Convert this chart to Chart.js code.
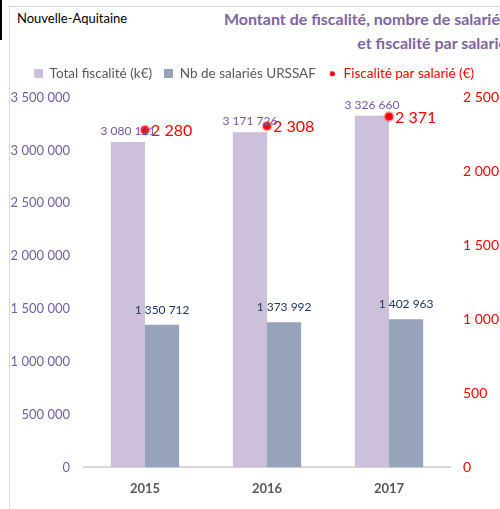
<!DOCTYPE html>
<html>
<head>
<meta charset="utf-8">
<script src="https://cdn.jsdelivr.net/npm/chart.js@4/dist/chart.umd.min.js"></script>
<style>
  html, body { margin: 0; padding: 0; background: #fff; overflow: hidden; }
  body { width: 500px; height: 509px; position: relative; font-family: Lato, "Liberation Sans", sans-serif; }
  #frame { position: absolute; left: 9px; top: 6px; width: 520px; height: 520px; border: 1px solid #d9d9d9; box-sizing: border-box; }
  #blackline { position: absolute; left: 0; top: 0; width: 2px; height: 40px; background: #000; }
  #region { position: absolute; left: 17px; top: 10px; font-size: 13px; color: #000; }
  #title { position: absolute; right: -7px; top: 7px; font-size: 16px; font-weight: bold; color: #8064a2; text-align: right; line-height: 24px; white-space: nowrap; }
  #wrap { position: absolute; left: 0; top: 0; width: 500px; height: 509px; }
</style>
</head>
<body>
<div id="frame"></div>
<div id="blackline"></div>
<div id="region">Nouvelle-Aquitaine</div>
<div id="title">Montant de fiscalité, nombre de salariés<br>et fiscalité par salarié</div>
<div id="wrap"><canvas id="chart-fiscalite"></canvas></div>
<script>
var years = ['2015', '2016', '2017'];
var totalFiscalite = [3080121, 3171726, 3326660];
var nbSalaries = [1350712, 1373992, 1402963];
var fiscaliteParSalarie = [2280, 2308, 2371];
var leftTicks = [0, 500000, 1000000, 1500000, 2000000, 2500000, 3000000, 3500000];
var rightTicks = [0, 500, 1000, 1500, 2000, 2500];

var purple = '#ccc0da';
var greyBlue = '#97a3bb';
var red = '#ff0000';
var fontFamily = 'Lato, "Liberation Sans", sans-serif';

function fmt(n) {
    return String(n).replace(/\B(?=(\d{3})+(?!\d))/g, ' ');
}

// legend markers as small images
function marker(color, round) {
    var c = document.createElement('canvas');
    c.width = 9;
    c.height = 9;
    var g = c.getContext('2d');
    g.fillStyle = color;
    if (round) {
        g.beginPath();
        g.arc(4.5, 4.5, 2.6, 0, Math.PI * 2);
        g.fill();
    } else {
        g.fillRect(0, 0, 9, 9);
    }
    return c;
}

// empty box between the legend and the plot area
var legendSpacer = {
    id: 'legendSpacer',
    beforeInit: function (chart) {
        Chart.layouts.addBox(chart, {
            position: 'top',
            weight: 500,
            fullSize: true,
            options: {},
            left: 0, top: 0, right: 0, bottom: 0, width: 0, height: 0,
            isHorizontal: function () { return true; },
            update: function (maxWidth) {
                this.width = maxWidth;
                this.height = 7;
            },
            draw: function () {}
        });
    }
};

// draws the value labels above bars and next to points
var valueLabels = {
    id: 'valueLabels',
    afterDatasetsDraw: function (chart) {
        var ctx = chart.ctx;
        ctx.save();
        chart.data.datasets.forEach(function (ds, i) {
            var meta = chart.getDatasetMeta(i);
            meta.data.forEach(function (el, j) {
                var v = ds.data[j];
                if (ds.type === 'line') {
                    ctx.font = '16px ' + fontFamily;
                    ctx.fillStyle = red;
                    ctx.textAlign = 'left';
                    ctx.textBaseline = 'middle';
                    ctx.fillText(fmt(v), el.x + 6, el.y + 1);
                } else {
                    ctx.font = '12px ' + fontFamily;
                    ctx.fillStyle = ds.labelColor;
                    ctx.textAlign = 'center';
                    ctx.textBaseline = 'bottom';
                    ctx.fillText(fmt(v), el.x, el.y - ds.labelGap);
                }
            });
        });
        ctx.restore();
    }
};

var ctx = document.getElementById('chart-fiscalite');
new Chart(ctx, {
    type: 'bar',
    data: {
        labels: years,
        datasets: [
            {
                type: 'line',
                label: 'Fiscalité par salarié (€)',
                data: fiscaliteParSalarie,
                yAxisID: 'y1',
                showLine: false,
                pointStyle: 'circle',
                pointRadius: 4,
                pointBorderWidth: 3,
                pointBackgroundColor: red,
                pointBorderColor: 'rgba(255,60,60,0.35)',
                backgroundColor: red,
                borderColor: red,
                order: 0
            },
            {
                label: 'Total fiscalité (k€)',
                data: totalFiscalite,
                yAxisID: 'y',
                backgroundColor: purple,
                borderColor: purple,
                labelColor: '#7a55ad',
                labelGap: 5,
                order: 1
            },
            {
                label: 'Nb de salariés URSSAF',
                data: nbSalaries,
                yAxisID: 'y',
                backgroundColor: greyBlue,
                borderColor: greyBlue,
                labelColor: '#1f3864',
                labelGap: 9,
                order: 1
            }
        ]
    },
    options: {
        responsive: true,
        maintainAspectRatio: false,
        animation: false,
        categoryPercentage: 0.56,
        barPercentage: 1,
        layout: { padding: { left: 8, right: 0, top: 55, bottom: 6 } },
        plugins: {
            title: { display: false },
            tooltip: { enabled: false },
            legend: {
                position: 'top',
                labels: {
                    usePointStyle: true,
                    boxWidth: 9,
                    boxHeight: 9,
                    padding: 12,
                    font: { family: fontFamily, size: 13.5 },
                    generateLabels: function (chart) {
                        var order = [1, 2, 0];
                        return order.map(function (i) {
                            var ds = chart.data.datasets[i];
                            var isLine = ds.type === 'line';
                            return {
                                text: ds.label,
                                datasetIndex: i,
                                fillStyle: ds.backgroundColor,
                                strokeStyle: ds.backgroundColor,
                                lineWidth: 0,
                                pointStyle: marker(ds.backgroundColor, isLine),
                                fontColor: isLine ? red : '#595959',
                                hidden: false
                            };
                        });
                    }
                }
            }
        },
        scales: {
            x: {
                grid: { display: false },
                border: { color: '#d9d9d9', width: 2 },
                ticks: {
                    color: '#595959',
                    font: { family: fontFamily, size: 13, weight: 'bold' },
                    padding: 6
                }
            },
            y: {
                position: 'left',
                min: 0,
                max: 3500000,
                grid: { display: false },
                border: { display: false },
                afterBuildTicks: function (s) { s.ticks = leftTicks.map(function (v) { return { value: v }; }); },
                afterFit: function (s) { s.width = 76; },
                ticks: {
                    color: '#7060a8',
                    padding: 6,
                    font: { family: fontFamily, size: 13 },
                    callback: function (v) { return fmt(v); }
                }
            },
            y1: {
                position: 'right',
                min: 0,
                max: 2500,
                grid: { display: false },
                border: { display: false },
                afterBuildTicks: function (s) { s.ticks = rightTicks.map(function (v) { return { value: v }; }); },
                afterFit: function (s) { s.width = 50; },
                ticks: {
                    color: red,
                    padding: 5,
                    font: { family: fontFamily, size: 14 },
                    callback: function (v) { return fmt(v); }
                }
            }
        }
    },
    plugins: [legendSpacer, valueLabels]
});
</script>
</body>
</html>
